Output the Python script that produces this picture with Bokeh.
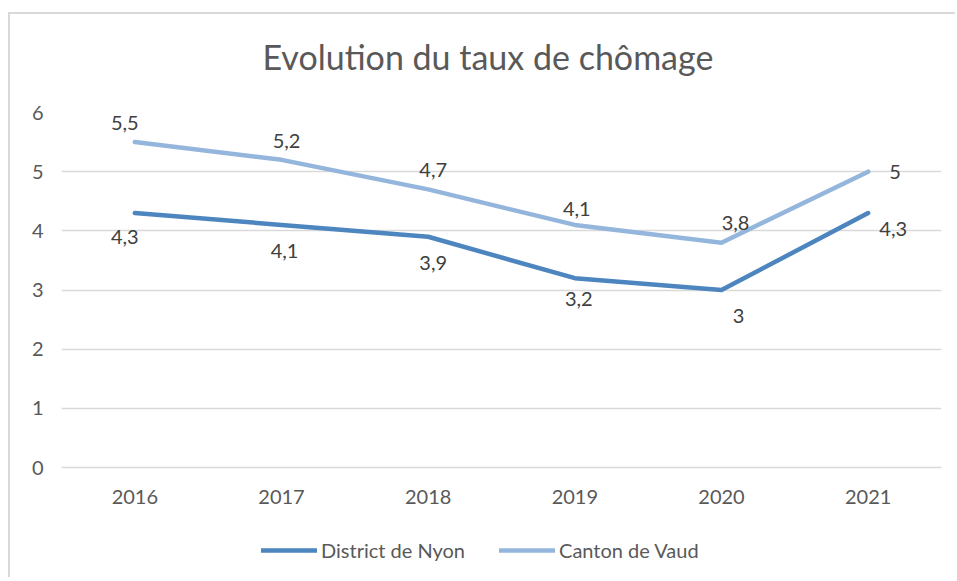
from bokeh.plotting import figure
from bokeh.layouts import column
from bokeh.models import ColumnDataSource, LabelSet, Legend, LegendItem, Range1d
from bokeh.core.properties import value
from bokeh.embed import file_html
from bokeh.resources import INLINE

# ---- data ----
years = ["2016", "2017", "2018", "2019", "2020", "2021"]
nyon = [4.3, 4.1, 3.9, 3.2, 3.0, 4.3]
vaud = [5.5, 5.2, 4.7, 4.1, 3.8, 5.0]
nyon_labels = ["4,3", "4,1", "3,9", "3,2", "3", "4,3"]
vaud_labels = ["5,5", "5,2", "4,7", "4,1", "3,8", "5"]
y_ticks = [0, 1, 2, 3, 4, 5, 6]
series_names = ["District de Nyon", "Canton de Vaud"]
title_text = "Evolution du taux de chômage"

# ---- label placement (style, screen px) ----
nyon_dx = [-10, 3, 5, 4, 17, 25]
nyon_dy = [-24, -26, -26, -21, -26, -16]
vaud_dx = [-10, 5, 5, 2, 14, 27]
vaud_dy = [19, 19, 19, 16, 20, 0]

FONT = "Lato"
TXT = "#595959"
DARK = "#4d85bf"
LIGHT = "#95b6dc"
GRID = "#d9d9d9"

src = ColumnDataSource(dict(
    year=years, nyon=nyon, vaud=vaud,
    nyon_lab=nyon_labels, vaud_lab=vaud_labels,
    ndx=nyon_dx, ndy=nyon_dy, vdx=vaud_dx, vdy=vaud_dy,
))

p = figure(x_range=years, y_range=Range1d(0, 6),
           frame_width=880, frame_height=355,
           output_backend="svg", toolbar_location=None,
           min_border_left=51, min_border_right=14,
           min_border_top=115, min_border_bottom=60)
p.border_fill_alpha = 0
p.styles = {"margin-top": "-17px"}

p.title.text = title_text
p.title.align = "left"
p.title.offset = 201
p.title.text_font = FONT
p.title.text_font_size = "34px"
p.title.text_font_style = "normal"
p.title.text_color = TXT
p.title.standoff = 72

p.outline_line_color = None
p.xgrid.grid_line_color = None
p.ygrid.grid_line_color = GRID
p.ygrid.grid_line_width = 1.5
p.yaxis.ticker = y_ticks

for ax in (p.xaxis[0], p.yaxis[0]):
    ax.major_tick_line_color = None
    ax.minor_tick_line_color = None
    ax.major_label_text_font = FONT
    ax.major_label_text_font_size = "20px"
    ax.major_label_text_color = TXT
p.yaxis.axis_line_color = None
p.xaxis.axis_line_color = GRID
p.xaxis.axis_line_width = 1.5
p.yaxis.major_label_standoff = 12
p.xaxis.major_label_standoff = 16

line_style = dict(line_width=4.5, line_cap="round", line_join="round")
p.line(x="year", y="nyon", source=src, line_color=DARK, **line_style)
p.line(x="year", y="vaud", source=src, line_color=LIGHT, **line_style)

for txt, yv, dx, dy in (("nyon_lab", "nyon", "ndx", "ndy"), ("vaud_lab", "vaud", "vdx", "vdy")):
    ls = LabelSet(x="year", y=yv, text=txt, source=src, x_offset=dx, y_offset=dy,
                  text_align="center", text_baseline="middle",
                  text_font=value(FONT), text_font_size=value("20px"),
                  text_color=value("#404040"))
    p.add_layout(ls)

# ---- legend strip (separate figure; the series are outside its visible y range) ----
leg = figure(width=945, height=50, x_range=years, y_range=Range1d(100, 101),
             output_backend="svg", toolbar_location=None, title=None,
             x_axis_type=None, y_axis_type=None, min_border=0)
leg.outline_line_color = None
leg.border_fill_alpha = 0
leg.background_fill_alpha = 0
k1 = leg.line(x="year", y="nyon", source=src, line_color=DARK, **line_style)
k2 = leg.line(x="year", y="vaud", source=src, line_color=LIGHT, **line_style)

legend = Legend(items=[LegendItem(label=series_names[0], renderers=[k1]),
                       LegendItem(label=series_names[1], renderers=[k2])],
                orientation="horizontal", location=(200, 15),
                border_line_color=None, background_fill_alpha=0,
                label_text_font=FONT, label_text_font_size="20px",
                label_text_color=TXT, glyph_width=56, glyph_height=20,
                label_standoff=4, spacing=34, margin=0, padding=4)
leg.add_layout(legend)

page = column(p, leg)
page.styles = {"border-left": "2px solid #d9d9d9", "border-top": "2px solid #d9d9d9",
               "margin-left": "8px", "margin-top": "12px"}

open("out.html", "w").write(file_html(page, INLINE))
